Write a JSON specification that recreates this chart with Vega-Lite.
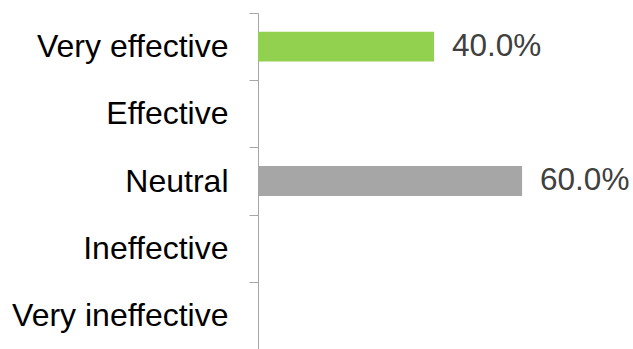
{
  "$schema": "https://vega.github.io/schema/vega-lite/v6.json",
  "autosize": {"type": "none"},
  "padding": {"left": 258, "top": 13, "right": 0, "bottom": 0},
  "width": 375,
  "height": 336,
  "background": "white",
  "config": {"view": {"stroke": null}, "font": "Liberation Sans"},
  "data": {
    "values": [
      {"rating": "Very effective", "share": 0.4, "color": "#92D050"},
      {"rating": "Effective", "share": 0, "color": "#92D050"},
      {"rating": "Neutral", "share": 0.6, "color": "#A6A6A6"},
      {"rating": "Ineffective", "share": 0, "color": "#A6A6A6"},
      {"rating": "Very ineffective", "share": 0, "color": "#A6A6A6"}
    ]
  },
  "encoding": {
    "y": {
      "field": "rating",
      "type": "nominal",
      "sort": null,
      "scale": {"paddingInner": 0, "paddingOuter": 0},
      "axis": {
        "title": null,
        "domainColor": "#A6A6A6",
        "tickColor": "#A6A6A6",
        "tickSize": 9,
        "tickBand": "extent",
        "labelFontSize": 32,
        "labelColor": "#000000",
        "labelPadding": 21,
        "labelFont": "Liberation Sans",
        "labelLimit": 300
      }
    },
    "x": {
      "field": "share",
      "type": "quantitative",
      "scale": {"domain": [0, 0.852]},
      "axis": null
    }
  },
  "layer": [
    {
      "mark": {"type": "bar", "height": {"band": 0.445}},
      "encoding": {
        "color": {"field": "color", "type": "nominal", "scale": null}
      }
    },
    {
      "transform": [{"filter": "datum.share > 0"}],
      "mark": {
        "type": "text",
        "align": "left",
        "baseline": "middle",
        "dx": 18,
        "fontSize": 31.5,
        "color": "#404040",
        "font": "Liberation Sans"
      },
      "encoding": {
        "text": {"field": "share", "type": "quantitative", "format": ".1%"}
      }
    }
  ]
}
